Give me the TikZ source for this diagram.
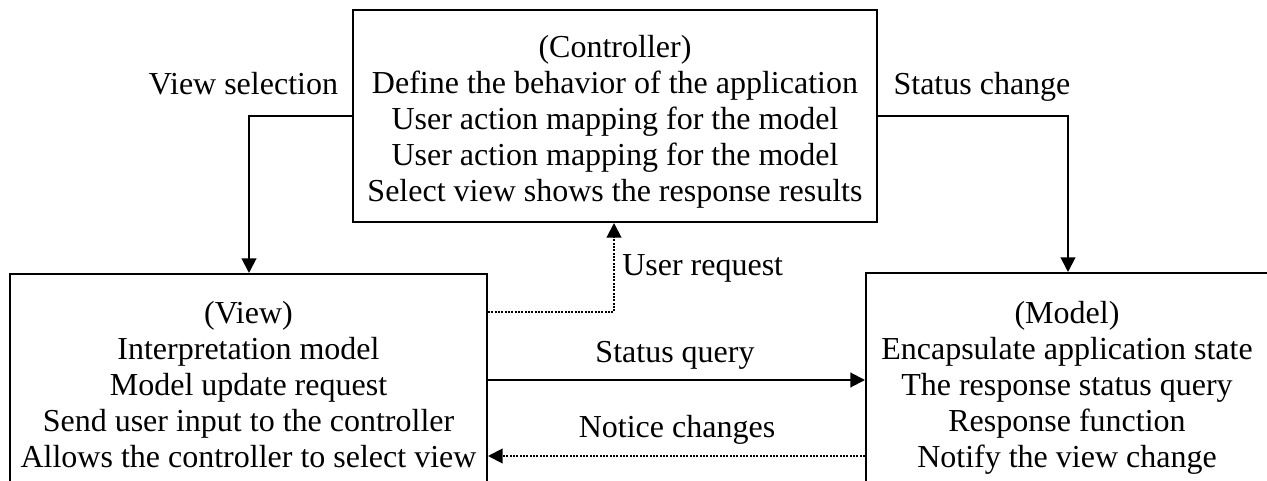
\documentclass[tikz,border=0pt]{standalone}
\usepackage{fontspec}
\setmainfont{Liberation Serif}
\usetikzlibrary{arrows.meta}
\begin{document}
\begin{tikzpicture}[x=0.75pt,y=-0.75pt,
  box/.style={draw,line width=1.5pt,inner sep=0pt},
  txt/.style={align=center,inner sep=0pt,font=\fontsize{24}{27}\selectfont},
  lbl/.style={inner sep=0pt,font=\fontsize{24}{27}\selectfont},
  arr/.style={line width=1.5pt,-{Triangle[length=11pt,width=11pt]}},
  dotarr/.style={arr,densely dotted}]
\useasboundingbox (0,0) rectangle (1267,481);
\clip (0,0) rectangle (1267,481);
\node[box,minimum width=393pt,minimum height=159pt] (ctrl) at (615,116) {};
\node[box,minimum width=357.75pt,minimum height=166.5pt] (view) at (248.5,385) {};
\node[box,minimum width=301.5pt,minimum height=168pt] (model) at (1067,385) {};
\node[txt] (ctrlt) at (615,122)
  {(Controller)\\Define the behavior of the application\\User action mapping for the model\\User action mapping for the model\\Select view shows the response results};
\node[txt] (viewt) at (248.5,385)
  {(View)\\Interpretation model\\Model update request\\Send user input to the controller\\Allows the controller to select view};
\node[txt] (modelt) at (1067,388)
  {(Model)\\Encapsulate application state\\The response status query\\Response function\\Notify the view change};
\coordinate (vs) at (249,116);
\coordinate (sc) at (1068,116);
\coordinate (ur) at (614,312);
\coordinate (sq) at (0,380);
\coordinate (nc) at (0,456);
\draw[arr] (vs -| ctrl.west) -| (vs |- view.north);
\draw[arr] (sc -| ctrl.east) -| (sc |- model.north);
\draw[dotarr] (ur -| view.east) -| (ur |- ctrl.south);
\draw[arr] (sq -| view.east) -- (sq -| model.west);
\draw[dotarr] (nc -| model.west) -- (nc -| view.east);
\node[lbl,anchor=base] (lvs) at (243.5,95) {View selection};
\node[lbl,anchor=base] (lsc) at (982,95) {Status change};
\node[lbl,anchor=west] (lur) at (622,268) {User request};
\node[lbl] (lsq) at (675,355) {Status query};
\node[lbl] (lnc) at (677,430) {Notice changes};
\end{tikzpicture}
\end{document}
